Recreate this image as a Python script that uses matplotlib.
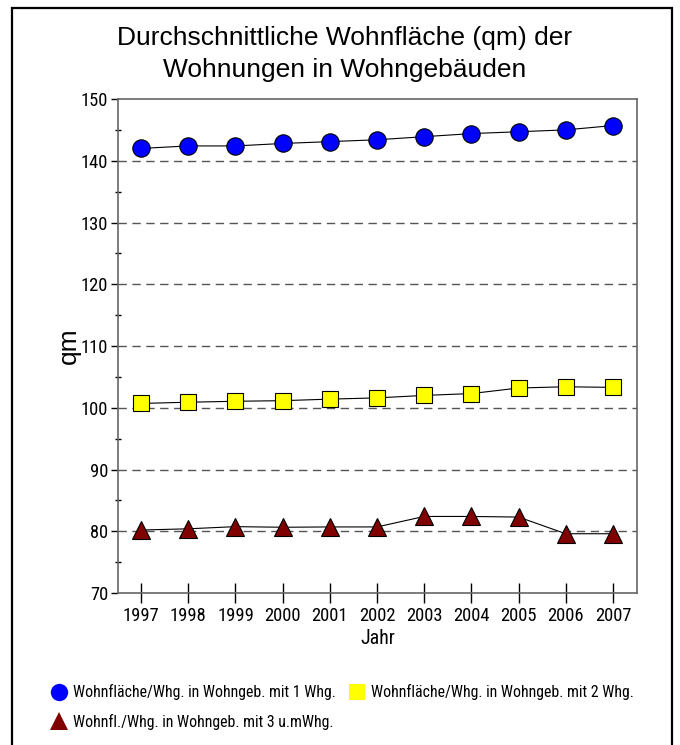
import matplotlib
matplotlib.use("Agg")
import matplotlib.pyplot as plt
from matplotlib import font_manager
from matplotlib.patches import Rectangle
from matplotlib.ticker import MultipleLocator

# schmale Schrift suchen (wie Arial Narrow im Original)
names = {f.name for f in font_manager.fontManager.ttflist}
kandidaten = [("Liberation Sans Narrow", 1.0), ("Arial Narrow", 1.0),
              ("Roboto Condensed", 0.95), ("Open Sans Condensed", 0.9)]
schmal, faktor = "Liberation Sans", 0.86
for n, f in kandidaten:
    if n in names:
        schmal, faktor = n, f
        break

plt.rcParams['font.family'] = [schmal, 'Liberation Sans', 'DejaVu Sans']

# Daten
jahre = [1997, 1998, 1999, 2000, 2001, 2002, 2003, 2004, 2005, 2006, 2007]
whg_1 = [142.0, 142.4, 142.4, 142.8, 143.1, 143.4, 143.9, 144.4, 144.7, 145.0, 145.7]
whg_2 = [100.7, 100.9, 101.05, 101.15, 101.4, 101.6, 102.0, 102.3, 103.2, 103.4, 103.3]
whg_3 = [80.2, 80.4, 80.75, 80.65, 80.7, 80.7, 82.4, 82.4, 82.3, 79.6, 79.6]

label_1 = "Wohnfläche/Whg. in Wohngeb. mit 1 Whg."
label_2 = "Wohnfläche/Whg. in Wohngeb. mit 2 Whg."
label_3 = "Wohnfl./Whg. in Wohngeb. mit 3 u.mWhg."

fs_tick = 14 * faktor
fs_leg = 12 * faktor

fig = plt.figure(figsize=(6.8, 7.45), dpi=100)
ax = fig.add_axes([0.1735, 0.204, 0.9368 - 0.1735, 0.8671 - 0.204])

# Rahmen um die ganze Grafik
fig.patches.append(Rectangle((0.0176, -0.02), 0.988 - 0.0176, 0.989 + 0.02,
                             transform=fig.transFigure, fill=False,
                             edgecolor="black", linewidth=1.6))

h1, = ax.plot(jahre, whg_1, color="black", linewidth=0.8, marker="o",
              markersize=12.5, markerfacecolor="#0000ff", markeredgecolor="black",
              markeredgewidth=0.8, label=label_1)
h2, = ax.plot(jahre, whg_2, color="black", linewidth=0.8, marker="s",
              markersize=11.5, markerfacecolor="#ffff00", markeredgecolor="black",
              markeredgewidth=0.8, label=label_2)
h3, = ax.plot(jahre, whg_3, color="black", linewidth=0.8, marker="^",
              markersize=12.5, markerfacecolor="#800000", markeredgecolor="black",
              markeredgewidth=0.8, label=label_3)

ax.set_xlim(1996.51, 2007.51)
ax.set_ylim(70, 150)
ax.set_xticks(jahre)
ax.yaxis.set_major_locator(MultipleLocator(10))
ax.yaxis.set_minor_locator(MultipleLocator(5))
ax.tick_params(axis="x", direction="inout", length=14, width=1, labelsize=fs_tick, pad=3)
ax.tick_params(axis="y", which="major", direction="out", length=5, width=1, labelsize=fs_tick, pad=2)
ax.tick_params(axis="y", which="minor", direction="inout", length=5, width=1)

for s in ax.spines.values():
    s.set_color("#666666")
    s.set_linewidth(1.2)

for y in range(80, 150, 10):
    ax.axhline(y, color="#555555", linewidth=1, linestyle=(0, (6, 4)), zorder=0)

ax.set_xlabel("Jahr", fontsize=fs_tick + 1, labelpad=3)
ax.set_ylabel("qm", fontsize=19, family="Liberation Sans", labelpad=0)

fig.text(0.507, 0.9275, "Durchschnittliche Wohnfläche (qm) der\nWohnungen in Wohngebäuden",
         ha="center", va="center", fontsize=19, family="Liberation Sans", linespacing=1.4)

leg = fig.legend([h1, h3, h2], [label_1, label_3, label_2], ncol=2,
                 loc="upper left", bbox_to_anchor=(0.068, 0.09), frameon=False,
                 fontsize=fs_leg, handlelength=0.8, handletextpad=0.5,
                 columnspacing=0.9, labelspacing=0.85, borderaxespad=0)
for h in leg.legend_handles:
    h.set_linestyle("none")
    h.set_markeredgewidth(0)

fig.savefig("out.png", dpi=100)
